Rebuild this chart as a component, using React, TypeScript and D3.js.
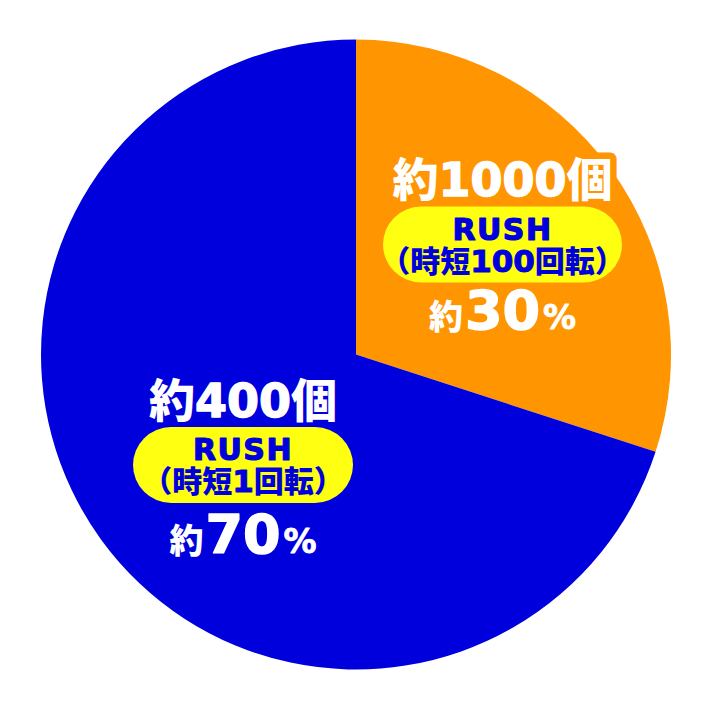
import React from "react";
import * as d3 from "d3";

// ---- data ----
const categories = ["RUSH（時短100回転）", "RUSH（時短1回転）"];
const modeNames = ["RUSH", "RUSH"];
const spinTexts = ["時短100回転", "時短1回転"];
const payoutCounts = [1000, 400];
const shares = [30, 70];
const sliceColors = ["#ff9500", "#0000dc"];

// ---- layout (not data) ----
const W = 712;
const H = 710;
const CX = 356;
const CY = 354.5;
const R = 315;
const labelLayout = [
  { x: 502.5, y: 244.5, pillW: 239, pctDy: 84 },
  { x: 243, y: 465, pillW: 220, pctDy: 88 },
];
const PILL_H = 76;
const CJK = "'Noto Sans CJK JP', 'Noto Sans CJK SC', sans-serif";
const LAT = "'DejaVu Sans', sans-serif";
const PILL_FILL = "#ffff12";
const TEXT_BLUE = "#0000dc";

function CountSpans({ n, thick }: { n: number; thick?: string }) {
  return (
    <>
      <tspan fontFamily={CJK} fontWeight={900} fontSize={46}>
        約
      </tspan>
      <tspan
        fontFamily={LAT}
        fontWeight={700}
        fontSize={46}
        stroke={thick}
        strokeWidth={thick ? 1.4 : undefined}
      >
        {n}
      </tspan>
      <tspan fontFamily={CJK} fontWeight={900} fontSize={46}>
        個
      </tspan>
    </>
  );
}

export default function App() {
  const pie = d3
    .pie<number>()
    .sort(null)
    .value((d) => d)
    .startAngle(0)
    .endAngle(2 * Math.PI);
  const arcs = pie(shares);
  const arc = d3.arc<d3.PieArcDatum<number>>().innerRadius(0).outerRadius(R);

  return (
    <svg
      width={W}
      height={H}
      viewBox={`0 0 ${W} ${H}`}
      style={{ position: "absolute", left: 0, top: 0, background: "#fff" }}
    >
      <g transform={`translate(${CX},${CY})`}>
        {arcs.map((a, i) => (
          <path key={categories[i]} d={arc(a) || ""} fill={sliceColors[i]} />
        ))}
      </g>
      {arcs.map((a, i) => {
        const L = labelLayout[i];
        const color = sliceColors[i];
        const parts = spinTexts[i].split(/(\d+)/).filter((p) => p.length > 0);
        return (
          <g key={"lbl" + i} transform={`translate(${L.x},${L.y})`}>
            <text
              textAnchor="middle"
              y={-48.5}
              fill={color}
              stroke={color}
              strokeWidth={13}
              strokeLinejoin="round"
            >
              <CountSpans n={payoutCounts[i]} />
            </text>
            <text textAnchor="middle" y={-48.5} fill="#fff" strokeLinejoin="round">
              <CountSpans n={payoutCounts[i]} thick="#fff" />
            </text>
            <rect
              x={-L.pillW / 2}
              y={-PILL_H / 2}
              width={L.pillW}
              height={PILL_H}
              rx={PILL_H / 2}
              ry={PILL_H / 2}
              fill={PILL_FILL}
            />
            <text
              textAnchor="middle"
              y={-5}
              fill={TEXT_BLUE}
              stroke={TEXT_BLUE}
              strokeWidth={1.2}
              strokeLinejoin="round"
              fontFamily={LAT}
              fontWeight={700}
              fontSize={30}
              letterSpacing={1.5}
            >
              {modeNames[i]}
            </text>
            <text textAnchor="middle" y={27} fill={TEXT_BLUE} strokeLinejoin="round">
              <tspan fontFamily={CJK} fontWeight={900} fontSize={30}>
                （
              </tspan>
              {parts.map((p, k) =>
                /\d/.test(p) ? (
                  <tspan
                    key={k}
                    fontFamily={LAT}
                    fontWeight={700}
                    fontSize={31}
                    stroke={TEXT_BLUE}
                    strokeWidth={1}
                  >
                    {p}
                  </tspan>
                ) : (
                  <tspan key={k} fontFamily={CJK} fontWeight={900} fontSize={30}>
                    {p}
                  </tspan>
                )
              )}
              <tspan fontFamily={CJK} fontWeight={900} fontSize={30}>
                ）
              </tspan>
            </text>
            <text textAnchor="middle" y={L.pctDy} fill="#fff" strokeLinejoin="round">
              <tspan fontFamily={CJK} fontWeight={900} fontSize={34}>
                約
              </tspan>
              <tspan
                fontFamily={LAT}
                fontWeight={700}
                fontSize={54}
                dx={2}
                stroke="#fff"
                strokeWidth={1.4}
              >
                {shares[i]}
              </tspan>
              <tspan
                fontFamily={LAT}
                fontWeight={700}
                fontSize={33}
                dx={3}
                stroke="#fff"
                strokeWidth={0.8}
              >
                %
              </tspan>
            </text>
          </g>
        );
      })}
    </svg>
  );
}
